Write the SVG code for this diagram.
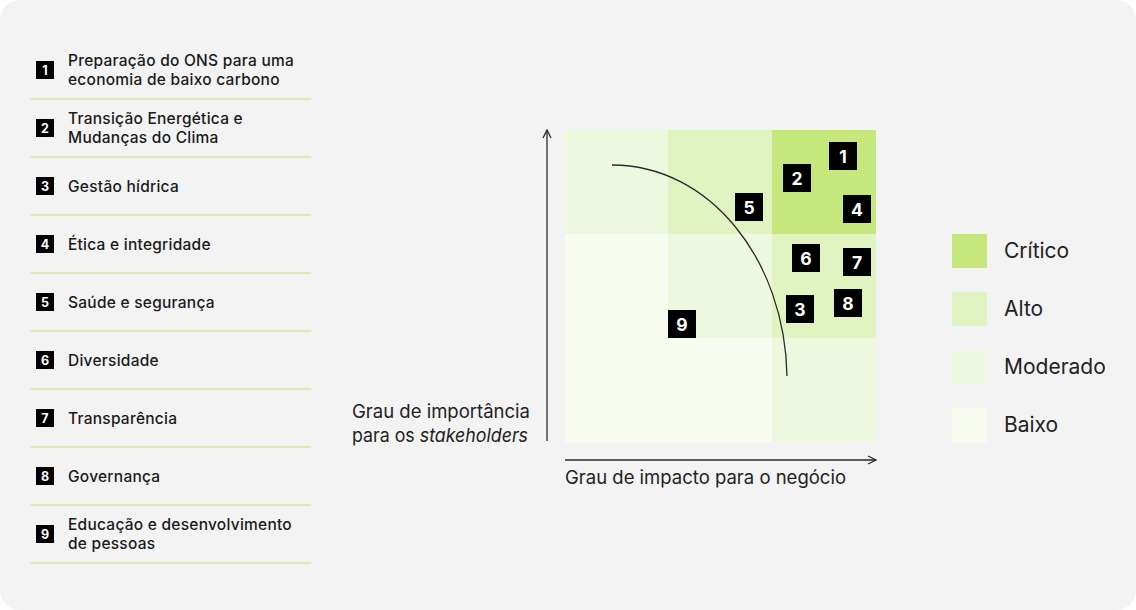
<svg xmlns="http://www.w3.org/2000/svg" width="1136" height="610" viewBox="0 0 1136 610">
<style>
.bg{fill:#f3f3f3}
.sep{stroke:#d3e9a6;stroke-width:1.3}
.lb{fill:#000}
.lbn{fill:#fff;font-family:Inter,"Liberation Sans",sans-serif;font-weight:700;font-size:12.5px;text-anchor:middle}
.lt{fill:#1a1a1a;font-family:Inter,"Liberation Sans",sans-serif;font-weight:500;font-size:15.5px;letter-spacing:0.25px}
.cb{fill:#000}
.cbn{fill:#fff;font-family:Inter,"Liberation Sans",sans-serif;font-weight:700;font-size:17.5px;text-anchor:middle}
.ax{fill:none;stroke:#2a2a2a;stroke-width:1.3}
.at{fill:#222;font-family:Inter,"Liberation Sans",sans-serif;font-size:18.5px}
.lg{fill:#222;font-family:Inter,"Liberation Sans",sans-serif;font-size:21px}
.c{fill:#c5e77c}.a{fill:#e1f3c0}.m{fill:#eef8df}.b{fill:#f7fbf0}
</style>
<defs>
<marker id="arr" viewBox="0 0 10 10" refX="9" refY="5" markerWidth="10" markerHeight="10" markerUnits="userSpaceOnUse" orient="auto">
<path d="M1,1 L9,5 L1,9" fill="none" stroke="#2a2a2a" stroke-width="1.3"/>
</marker>
</defs>
<rect width="1136" height="610" fill="#ffffff"/>
<rect class="bg" x="0" y="0" width="1136" height="610" rx="20"/>

<g id="list">
<g id="item1"><rect class="lb" x="36" y="61" width="18" height="18"/><text class="lbn" x="45" y="74.5">1</text><text class="lt" x="68" y="65.5">Preparação do ONS para uma</text><text class="lt" x="68" y="84.5">economia de baixo carbono</text></g>
<g id="item2"><rect class="lb" x="36" y="119" width="18" height="18"/><text class="lbn" x="45" y="132.5">2</text><text class="lt" x="68" y="123.5">Transição Energética e</text><text class="lt" x="68" y="142.5">Mudanças do Clima</text></g>
<g id="item3"><rect class="lb" x="36" y="177" width="18" height="18"/><text class="lbn" x="45" y="190.5">3</text><text class="lt" x="68" y="192">Gestão hídrica</text></g>
<g id="item4"><rect class="lb" x="36" y="235" width="18" height="18"/><text class="lbn" x="45" y="248.5">4</text><text class="lt" x="68" y="250">Ética e integridade</text></g>
<g id="item5"><rect class="lb" x="36" y="293" width="18" height="18"/><text class="lbn" x="45" y="306.5">5</text><text class="lt" x="68" y="308">Saúde e segurança</text></g>
<g id="item6"><rect class="lb" x="36" y="351" width="18" height="18"/><text class="lbn" x="45" y="364.5">6</text><text class="lt" x="68" y="366">Diversidade</text></g>
<g id="item7"><rect class="lb" x="36" y="409" width="18" height="18"/><text class="lbn" x="45" y="422.5">7</text><text class="lt" x="68" y="424">Transparência</text></g>
<g id="item8"><rect class="lb" x="36" y="467" width="18" height="18"/><text class="lbn" x="45" y="480.5">8</text><text class="lt" x="68" y="482">Governança</text></g>
<g id="item9"><rect class="lb" x="36" y="525" width="18" height="18"/><text class="lbn" x="45" y="538.5">9</text><text class="lt" x="68" y="529.5">Educação e desenvolvimento</text><text class="lt" x="68" y="548.5">de pessoas</text></g>
<g id="separators">
<line class="sep" x1="30" y1="99" x2="311" y2="99"/>
<line class="sep" x1="30" y1="157" x2="311" y2="157"/>
<line class="sep" x1="30" y1="215" x2="311" y2="215"/>
<line class="sep" x1="30" y1="273" x2="311" y2="273"/>
<line class="sep" x1="30" y1="331" x2="311" y2="331"/>
<line class="sep" x1="30" y1="389" x2="311" y2="389"/>
<line class="sep" x1="30" y1="447" x2="311" y2="447"/>
<line class="sep" x1="30" y1="505" x2="311" y2="505"/>
<line class="sep" x1="30" y1="563" x2="311" y2="563"/>
</g>
</g>

<g id="matrix">
<rect class="m" x="565" y="130" width="104" height="104"/>
<rect class="a" x="668" y="130" width="104" height="104"/>
<rect class="c" x="772" y="130" width="104" height="104"/>
<rect class="b" x="565" y="234" width="104" height="104"/>
<rect class="m" x="668" y="234" width="104" height="104"/>
<rect class="a" x="772" y="234" width="104" height="104"/>
<rect class="b" x="565" y="338" width="104" height="104"/>
<rect class="b" x="668" y="338" width="104" height="104"/>
<rect class="m" x="772" y="338" width="104" height="104"/>
</g>

<g id="connectors">
<path class="ax" d="M612,165 C710,165 785,260 787,376"/>
<line class="ax" x1="547" y1="441" x2="547" y2="130" marker-end="url(#arr)"/>
<line class="ax" x1="565" y1="460" x2="876" y2="460" marker-end="url(#arr)"/>
</g>

<g id="b1"><rect class="cb" x="829" y="142" width="28" height="28"/><text class="cbn" x="843" y="162.5">1</text></g>
<g id="b2"><rect class="cb" x="783" y="164" width="28" height="28"/><text class="cbn" x="797" y="184.5">2</text></g>
<g id="b5"><rect class="cb" x="735" y="193" width="28" height="28"/><text class="cbn" x="749" y="213.5">5</text></g>
<g id="b4"><rect class="cb" x="843" y="195" width="28" height="28"/><text class="cbn" x="857" y="215.5">4</text></g>
<g id="b6"><rect class="cb" x="792" y="244" width="28" height="28"/><text class="cbn" x="806" y="264.5">6</text></g>
<g id="b7"><rect class="cb" x="843" y="248" width="28" height="28"/><text class="cbn" x="857" y="268.5">7</text></g>
<g id="b3"><rect class="cb" x="786" y="295" width="28" height="28"/><text class="cbn" x="800" y="315.5">3</text></g>
<g id="b8"><rect class="cb" x="834" y="289" width="28" height="28"/><text class="cbn" x="848" y="309.5">8</text></g>
<g id="b9"><rect class="cb" x="668" y="310" width="28" height="28"/><text class="cbn" x="682" y="330.5">9</text></g>

<g id="axis-labels">
<text class="at" x="352" y="418" textLength="178" lengthAdjust="spacingAndGlyphs">Grau de importância</text>
<text class="at" x="352" y="442" textLength="176" lengthAdjust="spacingAndGlyphs">para os <tspan font-style="italic">stakeholders</tspan></text>
<text class="at" x="565" y="484">Grau de impacto para o negócio</text>
</g>

<g id="legend">
<g id="lg-critico"><rect class="c" x="952" y="234" width="35" height="34"/><text class="lg" x="1004" y="258">Crítico</text></g>
<g id="lg-alto"><rect class="a" x="952" y="292" width="35" height="34"/><text class="lg" x="1004" y="316">Alto</text></g>
<g id="lg-moderado"><rect class="m" x="952" y="350" width="35" height="34"/><text class="lg" x="1004" y="374">Moderado</text></g>
<g id="lg-baixo"><rect class="b" x="952" y="408" width="35" height="34"/><text class="lg" x="1004" y="432">Baixo</text></g>
</g>
</svg>
